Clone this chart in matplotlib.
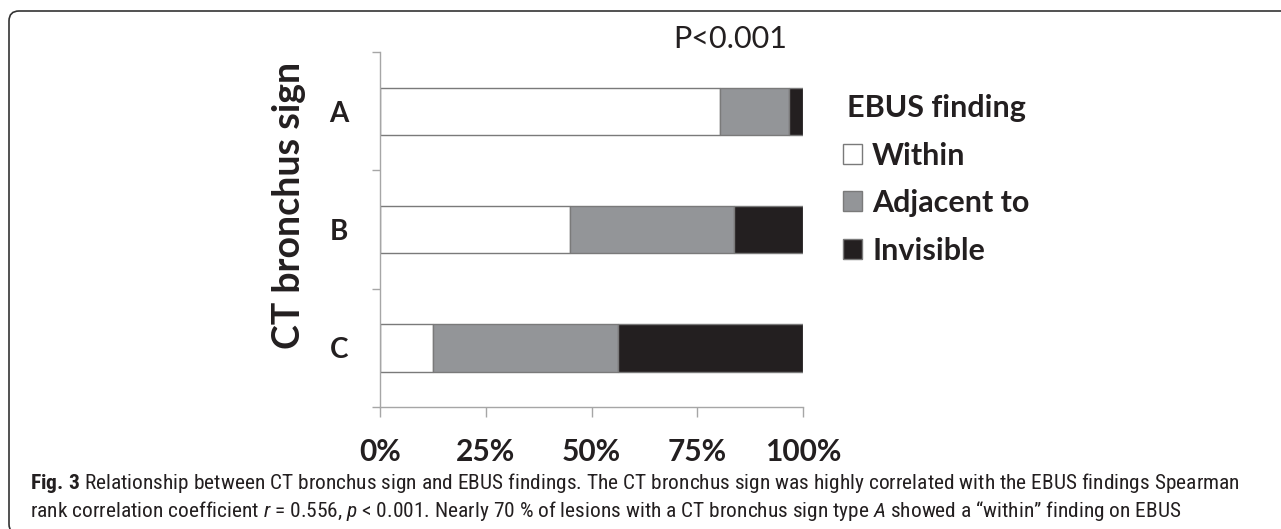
import matplotlib
matplotlib.use("Agg")
import matplotlib.pyplot as plt
from matplotlib import font_manager
from matplotlib.patches import Patch, FancyBboxPatch
from matplotlib.transforms import IdentityTransform

# data (percent of lesions per CT bronchus sign)
signs = ['A', 'B', 'C']
within = [80.4, 44.8, 12.5]
adjacent = [16.2, 39.0, 43.75]
invisible = [3.4, 16.2, 43.75]
findings = ['Within', 'Adjacent to', 'Invisible']
xticks = [0, 25, 50, 75, 100]
xticklabels = ['0%', '25%', '50%', '75%', '100%']

colors = ['#ffffff', '#939598', '#231f20']
edge = '#7a7a7a'
axis_col = '#a6a6a6'
ink = '#231f20'

names = {f.name for f in font_manager.fontManager.ttflist}
main_font = 'Lato' if 'Lato' in names else 'DejaVu Sans'
cap_font = 'DejaVu Sans'
for cand in ['Liberation Sans Narrow', 'Roboto Condensed', 'Open Sans Condensed', 'Liberation Sans']:
    if cand in names:
        cap_font = cand
        break

plt.rcParams['font.family'] = [main_font, 'DejaVu Sans']
plt.rcParams['mathtext.fontset'] = 'custom'
plt.rcParams['mathtext.rm'] = cap_font
plt.rcParams['mathtext.it'] = cap_font + ':italic'
plt.rcParams['mathtext.bf'] = cap_font + ':bold'

W, H = 1281, 529
fig = plt.figure(figsize=(W / 100, H / 100), dpi=100)
fig.patch.set_facecolor('white')

# axes placed in pixel terms: x 380..803, y 52..407
ax = fig.add_axes([380 / W, 1 - 407 / H, 423 / W, 355 / H])

ypos = list(range(len(signs)))
left2 = [a + b for a, b in zip(within, adjacent)]
ax.barh(ypos, within, height=0.4, color=colors[0], edgecolor=edge, linewidth=1)
ax.barh(ypos, adjacent, left=within, height=0.4, color=colors[1], edgecolor=edge, linewidth=1)
ax.barh(ypos, invisible, left=left2, height=0.4, color=colors[2], edgecolor=edge, linewidth=1)

ax.set_xlim(0, 100)
ax.set_ylim(2.5, -0.5)
ax.set_xticks(xticks)
ax.set_xticklabels(xticklabels, fontsize=21.5, fontweight='bold', color=ink)
ax.set_yticks(ypos)
ax.set_yticklabels(signs, fontsize=20, fontweight='bold', color=ink)
ax.set_yticks([-0.5, 0.5, 1.5, 2.5], minor=True)
ax.tick_params(axis='x', length=7.5, width=1, color=axis_col, pad=15)
ax.tick_params(axis='y', which='major', length=0, pad=23)
ax.tick_params(axis='y', which='minor', length=6, width=1, color=axis_col)
for s in ['top', 'right']:
    ax.spines[s].set_visible(False)
for s in ['left', 'bottom']:
    ax.spines[s].set_color(axis_col)
    ax.spines[s].set_linewidth(1)

fig.text(289 / W, 1 - 205 / H, 'CT bronchus sign', rotation=90, ha='center', va='center',
         fontsize=27, fontweight='bold', color=ink)
fig.text(730 / W, 1 - 39 / H, 'P<0.001', ha='center', va='center', fontsize=22, color=ink)

handles = [Patch(facecolor=c, edgecolor=edge, linewidth=1) for c in colors]
leg = ax.legend(handles, findings, title='EBUS finding', loc='upper left',
                bbox_to_anchor=(843 / W, 1 - 94 / H), bbox_transform=fig.transFigure,
                frameon=False, borderpad=0, borderaxespad=0, handlelength=0.62, handleheight=0.62,
                handletextpad=0.33, labelspacing=0.64,
                prop={'family': main_font, 'weight': 'bold', 'size': 22},
                title_fontproperties={'family': main_font, 'weight': 'bold', 'size': 22})
for t in leg.get_texts():
    t.set_color(ink)
leg.get_title().set_color(ink)

# caption under the chart
line1 = (r'$\mathbf{Fig.}\,\mathbf{3}$ Relationship between CT bronchus sign and EBUS findings. '
         'The CT bronchus sign was highly correlated with the EBUS findings Spearman')
line2 = ('rank correlation coefficient $r$ = 0.556, $p$ < 0.001. Nearly 70 % of lesions '
         'with a CT bronchus sign type $A$ showed a \u201cwithin\u201d finding on EBUS')
t1 = fig.text(30 / W, 1 - 489 / H, line1, ha='left', va='baseline',
              fontsize=14, family=cap_font, color=ink)
t2 = fig.text(30 / W, 1 - 517 / H, line2, ha='left', va='baseline',
              fontsize=14, family=cap_font, color=ink)

# fit caption so line 1 spans about 1237 px
fig.canvas.draw()
w1 = t1.get_window_extent().width
size = min(14 * 1237 / w1, 15.4)
t1.set_fontsize(size)
t2.set_fontsize(size)

# rounded frame, cut by the right and bottom edges
frame = FancyBboxPatch((9, -5), 1300, H - 11 + 5, boxstyle='round,pad=0,rounding_size=10',
                       transform=IdentityTransform(), fill=False, edgecolor='#333333', linewidth=1.2)
fig.patches.append(frame)

fig.savefig('out.png', dpi=100)
